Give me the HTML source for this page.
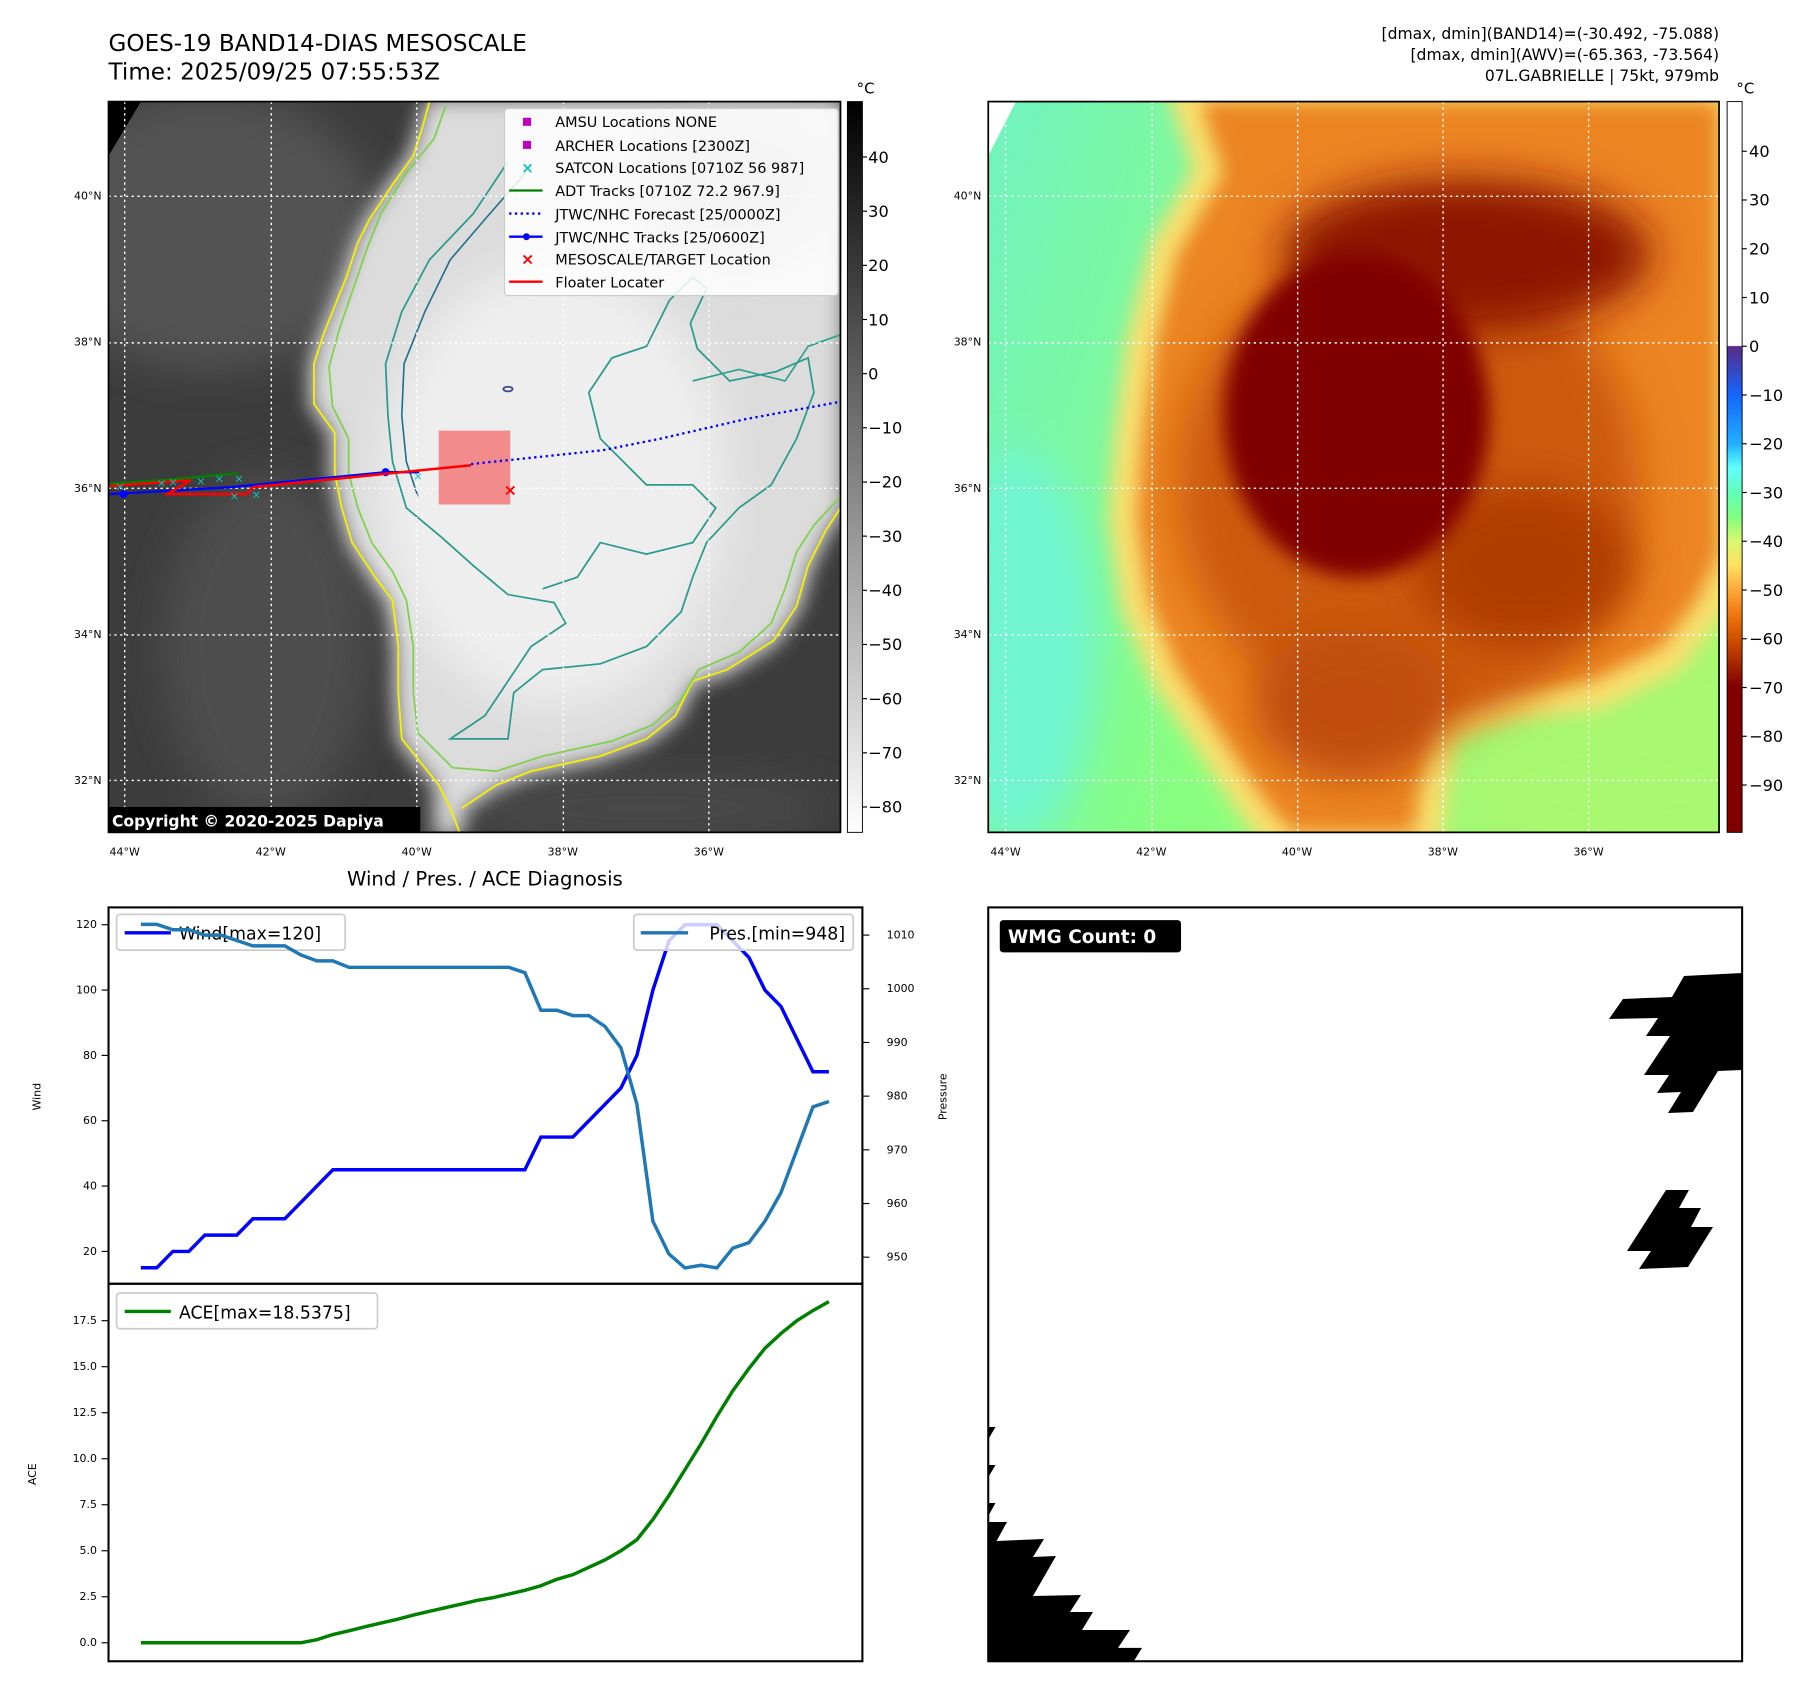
<!DOCTYPE html>
<html><head><meta charset="utf-8"><style>
html,body{margin:0;padding:0;background:#fff;}
svg{display:block;font-family:"DejaVu Sans","Liberation Sans",sans-serif;}
</style></head><body>
<svg id="fig" xmlns="http://www.w3.org/2000/svg" width="1801" height="1690" viewBox="0 0 1560 1463.9" preserveAspectRatio="none">
<defs>
<filter id="b3" x="-20%" y="-20%" width="140%" height="140%"><feGaussianBlur stdDeviation="4"/></filter>
<filter id="b8" x="-20%" y="-20%" width="140%" height="140%"><feGaussianBlur stdDeviation="8"/></filter>
<filter id="b18" x="-30%" y="-30%" width="160%" height="160%"><feGaussianBlur stdDeviation="18"/></filter>
<clipPath id="clipL"><rect x="94" y="88" width="634" height="633"/></clipPath>
<clipPath id="clipR"><rect x="856" y="88" width="633" height="633"/></clipPath>
<clipPath id="clipW"><rect x="856" y="786" width="653" height="653"/></clipPath>
<linearGradient id="cbGrey" x1="0" y1="0" x2="0" y2="1"><stop offset="0" stop-color="#000"/><stop offset="1" stop-color="#fff"/></linearGradient>
<linearGradient id="cbAwv" x1="0" y1="0" x2="0" y2="1">
<stop offset="0" stop-color="#fff"/><stop offset="0.334" stop-color="#fff"/>
<stop offset="0.335" stop-color="#5a2a86"/><stop offset="0.401" stop-color="#1565ff"/>
<stop offset="0.468" stop-color="#20b0ff"/><stop offset="0.501" stop-color="#60ffff"/>
<stop offset="0.535" stop-color="#60ffb8"/><stop offset="0.568" stop-color="#80ff80"/>
<stop offset="0.601" stop-color="#d8f870"/><stop offset="0.635" stop-color="#ffe060"/>
<stop offset="0.668" stop-color="#ffa838"/><stop offset="0.701" stop-color="#f07810"/>
<stop offset="0.735" stop-color="#d05000"/><stop offset="0.768" stop-color="#a82800"/>
<stop offset="0.801" stop-color="#800000"/><stop offset="1" stop-color="#800000"/>
</linearGradient>
<linearGradient id="awvBg" x1="0" y1="0" x2="1" y2="0.3">
<stop offset="0" stop-color="#70f3c0"/><stop offset="0.25" stop-color="#7cf8a0"/><stop offset="0.5" stop-color="#88ff80"/><stop offset="1" stop-color="#a8f870"/>
</linearGradient>
</defs>

<text x="94" y="44" font-size="20">GOES-19 BAND14-DIAS MESOSCALE</text>
<text x="94" y="69" font-size="20">Time: 2025/09/25 07:55:53Z</text>
<g font-size="13.5" text-anchor="end">
<text x="1489" y="34">[dmax, dmin](BAND14)=(-30.492, -75.088)</text>
<text x="1489" y="52">[dmax, dmin](AWV)=(-65.363, -73.564)</text>
<text x="1489" y="70">07L.GABRIELLE | 75kt, 979mb</text>
</g>

<g clip-path="url(#clipL)">
<rect x="94" y="88" width="634" height="633" fill="#3c3c3c"/>
<ellipse cx="180" cy="200" rx="150" ry="120" fill="#525252" filter="url(#b18)"/>
<ellipse cx="230" cy="560" rx="90" ry="150" fill="#4e4e4e" filter="url(#b18)"/>
<ellipse cx="560" cy="700" rx="160" ry="30" fill="#4a4a4a" filter="url(#b18)"/>
<path d="M372,88 L728,88 L728,440 L715,460 700,490 690,525 670,555 630,580 600,590 585,620 560,640 520,655 460,668 430,680 400,700 398,721 380,721 380,680 348,640 345,600 345,560 340,520 325,500 305,470 296,440 290,410 290,375 272,350 272,315 280,290 292,260 300,240 310,210 320,190 340,160 358,135 366,110 Z" fill="#7a7a7a" stroke="#7a7a7a" stroke-width="14" filter="url(#b8)"/>
<path d="M372,88 L728,88 L728,440 L715,460 700,490 690,525 670,555 630,580 600,590 585,620 560,640 520,655 460,668 430,680 400,700 398,721 380,721 380,680 348,640 345,600 345,560 340,520 325,500 305,470 296,440 290,410 290,375 272,350 272,315 280,290 292,260 300,240 310,210 320,190 340,160 358,135 366,110 Z" fill="#dcdcdc" filter="url(#b8)"/>
<ellipse cx="480" cy="420" rx="150" ry="190" fill="#eeeeee" filter="url(#b18)"/>
<ellipse cx="640" cy="160" rx="90" ry="70" fill="#bdbdbd" filter="url(#b18)"/>
<path d="M94,88 L122,88 L94,135 Z" fill="#000"/>
<path d="M372,88 L366,110 358,135 340,160 320,190 310,210 300,240 292,260 280,290 272,315 272,350 290,375 290,410 296,440 305,470 325,500 340,520 345,560 345,600 348,640 380,680 390,700 398,721 M400,700 L430,680 460,668 520,655 560,640 585,620 600,590 630,580 670,555 690,525 700,490 715,460 728,440" fill="none" stroke="#f5f000" stroke-width="1.6"/>
<path d="M386,92 L376,120 352,150 330,185 318,215 306,250 294,285 285,318 288,352 302,380 302,410 310,440 322,470 340,495 352,520 358,560 358,600 362,635 392,665 430,668 470,655 530,642 565,628 590,606 605,580 640,565 668,540 680,510 690,478 705,455 728,430" fill="none" stroke="#7ed24a" stroke-width="1.5"/>
<path d="M440,140 L410,185 372,225 348,270 334,315 336,360 340,400 352,440 382,465 410,490 440,515 480,522 490,540 460,560 440,590 420,620 390,640 440,640 445,600 470,580 520,575 560,560 590,530 600,500 612,470 640,440 668,420 690,380 705,340 700,310 672,322 632,330 604,302 598,280 612,250 600,240 580,260 560,300 530,310 510,340 520,380 540,400 560,420 600,420 620,440 600,470 560,480 520,470 500,500 470,510" fill="none" stroke="#2a9a8c" stroke-width="1.5"/>
<path d="M455,150 L420,190 390,225 368,270 350,315 348,360 352,400 362,430" fill="none" stroke="#21708a" stroke-width="1.4"/>
<path d="M600,330 L640,320 680,330 700,300 728,290" fill="none" stroke="#2aa08a" stroke-width="1.4"/>
<ellipse cx="440" cy="337" rx="4" ry="2" fill="none" stroke="#3a4a8a" stroke-width="1.5"/>
<g stroke="#fff" stroke-width="1.2" stroke-dasharray="2,3">
<line x1="108" y1="88" x2="108" y2="721"/><line x1="235" y1="88" x2="235" y2="721"/><line x1="361" y1="88" x2="361" y2="721"/><line x1="488" y1="88" x2="488" y2="721"/><line x1="614" y1="88" x2="614" y2="721"/>
<line x1="94" y1="170" x2="728" y2="170"/><line x1="94" y1="297" x2="728" y2="297"/><line x1="94" y1="423" x2="728" y2="423"/><line x1="94" y1="550" x2="728" y2="550"/><line x1="94" y1="676" x2="728" y2="676"/>
</g>
<rect x="380" y="373" width="62" height="64" fill="#f28080" opacity="0.9"/>
<polyline points="408,402 522,390 572,380 646,363 728,348" fill="none" stroke="#0000ff" stroke-width="2" stroke-dasharray="2,3"/>
<polyline points="95,419 140,416 206,410" fill="none" stroke="#008000" stroke-width="2"/>
<polyline points="95,428 200,422 334,409 363,409" fill="none" stroke="#0000ff" stroke-width="2"/>
<circle cx="107" cy="428" r="3.5" fill="#0000ff"/><circle cx="334" cy="409" r="3.5" fill="#0000ff"/>
<polyline points="95,421 165,416 145,428 214,428 219,422 368,407 408,403" fill="none" stroke="#ff0000" stroke-width="2.2"/>
<g fill="#10c0c0" font-size="10" text-anchor="middle">
<text x="104" y="425">×</text><text x="140" y="422">×</text><text x="150" y="421">×</text><text x="174" y="420">×</text><text x="190" y="418">×</text><text x="207" y="418">×</text><text x="203" y="433">×</text><text x="222" y="432">×</text><text x="362" y="416">×</text>
</g>
<text x="442" y="429" fill="#ff0000" font-size="14" font-weight="bold" text-anchor="middle">×</text>
<g>
<rect x="437" y="94" width="289" height="162" rx="3" fill="#fff" fill-opacity="0.85" stroke="#ccc"/>
<rect x="453" y="102" width="7" height="7" fill="#c000c0"/>
<rect x="453" y="122" width="7" height="7" fill="#c000c0"/>
<text x="457" y="150" fill="#10c0c0" font-size="13" text-anchor="middle" font-weight="bold">×</text>
<line x1="441" y1="165" x2="470" y2="165" stroke="#008000" stroke-width="2"/>
<line x1="441" y1="185" x2="470" y2="185" stroke="#0000ff" stroke-width="2" stroke-dasharray="2,3"/>
<line x1="441" y1="205" x2="470" y2="205" stroke="#0000ff" stroke-width="2"/><circle cx="456" cy="205" r="3" fill="#0000ff"/>
<text x="457" y="229" fill="#ff0000" font-size="14" text-anchor="middle" font-weight="bold">×</text>
<line x1="441" y1="244" x2="470" y2="244" stroke="#ff0000" stroke-width="2"/>
<g font-size="12.5" fill="#000">
<text x="481" y="110">AMSU Locations NONE</text>
<text x="481" y="131">ARCHER Locations [2300Z]</text>
<text x="481" y="150">SATCON Locations [0710Z 56 987]</text>
<text x="481" y="170">ADT Tracks [0710Z 72.2 967.9]</text>
<text x="481" y="190">JTWC/NHC Forecast [25/0000Z]</text>
<text x="481" y="210">JTWC/NHC Tracks [25/0600Z]</text>
<text x="481" y="229">MESOSCALE/TARGET Location</text>
<text x="481" y="249">Floater Locater</text>
</g></g>
<rect x="94" y="699" width="270" height="22" fill="#000"/>
<text x="97" y="716" fill="#fff" font-size="13.5" font-weight="bold">Copyright © 2020-2025 Dapiya</text>
</g>
<rect x="94" y="88" width="634" height="633" fill="none" stroke="#000" stroke-width="1.5"/>

<g clip-path="url(#clipR)">
<rect x="856" y="88" width="633" height="633" fill="url(#awvBg)"/>
<ellipse cx="880" cy="560" rx="70" ry="170" fill="#6ff5d0" filter="url(#b18)"/>
<ellipse cx="1400" cy="680" rx="140" ry="60" fill="#a8f870" filter="url(#b18)"/>
<path d="M1040,88 L1489,88 L1489,480 1470,520 1440,560 1380,590 1300,600 1240,620 1230,680 1225,721 1120,721 1100,700 1060,640 1020,580 995,520 985,450 990,380 1000,300 1020,220 1060,150 Z" fill="#f8e070" stroke="#f8e070" stroke-width="50" filter="url(#b8)"/>
<path d="M1040,88 L1489,88 L1489,480 1470,520 1440,560 1380,590 1300,600 1240,620 1230,680 1225,721 1120,721 1100,700 1060,640 1020,580 995,520 985,450 990,380 1000,300 1020,220 1060,150 Z" fill="#ec8420" filter="url(#b8)"/>
<ellipse cx="1220" cy="420" rx="200" ry="210" fill="#cc5a08" filter="url(#b18)"/>
<ellipse cx="1170" cy="610" rx="85" ry="65" fill="#c04e08" filter="url(#b18)"/>
<ellipse cx="1320" cy="490" rx="95" ry="70" fill="#b03e06" filter="url(#b18)"/>
<ellipse cx="1270" cy="220" rx="160" ry="65" fill="#8e1800" filter="url(#b18)"/>
<ellipse cx="1175" cy="360" rx="115" ry="140" fill="#800000" filter="url(#b8)"/>
<path d="M856,88 L880,88 L856,135 Z" fill="#fff"/>
<g stroke="#fff" stroke-width="1.2" stroke-dasharray="2,3">
<line x1="871" y1="88" x2="871" y2="721"/><line x1="998" y1="88" x2="998" y2="721"/><line x1="1124" y1="88" x2="1124" y2="721"/><line x1="1250" y1="88" x2="1250" y2="721"/><line x1="1376" y1="88" x2="1376" y2="721"/>
<line x1="856" y1="170" x2="1489" y2="170"/><line x1="856" y1="297" x2="1489" y2="297"/><line x1="856" y1="423" x2="1489" y2="423"/><line x1="856" y1="550" x2="1489" y2="550"/><line x1="856" y1="676" x2="1489" y2="676"/>
</g>
</g>
<rect x="856" y="88" width="633" height="633" fill="none" stroke="#000" stroke-width="1.5"/>

<rect x="734" y="88" width="13" height="633" fill="url(#cbGrey)" stroke="#000" stroke-width="0.8"/>
<rect x="1496" y="88" width="13" height="633" fill="url(#cbAwv)" stroke="#000" stroke-width="0.8"/>
<text x="742" y="81" font-size="13">°C</text>
<text x="1504" y="81" font-size="13">°C</text>
<g id="cbticks" font-size="14"></g>
<g id="mapticks" font-size="9.5"></g>

<text x="420" y="767" font-size="17" text-anchor="middle">Wind / Pres. / ACE Diagnosis</text>
<g id="chart"></g>
<rect x="94" y="786" width="653" height="326" fill="none" stroke="#000" stroke-width="1.8"/>
<rect x="94" y="1112" width="653" height="327" fill="none" stroke="#000" stroke-width="1.8"/>
<text transform="translate(35,950) rotate(-90)" font-size="9.5" text-anchor="middle">Wind</text>
<text transform="translate(820,950) rotate(-90)" font-size="9.5" text-anchor="middle">Pressure</text>
<text transform="translate(31,1277) rotate(-90)" font-size="9.5" text-anchor="middle">ACE</text>

<g clip-path="url(#clipW)">
<rect x="856" y="786" width="653" height="653" fill="#fff"/>
<g transform="scale(0.86618)" fill="#000">
<polygon points="1609,1019 1623,999 1672,997 1684,976 1742,973 1742,1070 1718,1071 1693,1112 1668,1113 1681,1092 1657,1093 1669,1075 1644,1075 1670,1036 1646,1036 1658,1018"/>
<polygon points="1666,1190 1689,1190 1679,1208 1701,1208 1691,1227 1713,1227 1688,1267 1639,1269 1651,1251 1627,1251"/>
<polygon points="985,1427 995.5,1427 985,1445 985,1465 995.5,1465 985,1483 985,1503 995.5,1503 985,1522 1007,1522 996.6,1541 1044,1539 1033,1557 1056,1556 1033,1596 1081,1595 1070,1612 1093,1612 1082,1630 1130,1630 1118,1648 1142,1648 1134,1661 985,1661"/>
</g>
</g>
<rect x="856" y="786" width="653" height="653" fill="none" stroke="#000" stroke-width="1.8"/>
<rect x="866" y="797" width="157" height="28" rx="3" fill="#000"/>
<text x="873" y="817" fill="#fff" font-size="16" font-weight="bold">WMG Count: 0</text>
</svg>
<script>
const windVals = [15,15,20,20,25,25,25,30,30,30,35,40,45,45,45,45,45,45,45,45,45,45,45,45,45,55,55,55,60,65,70,80,100,115,120,120,120,115,110,100,95,85,75,75];
const presVals = [1012,1012,1011,1011,1010,1010,1009,1008,1008,1008,1006.3,1005.2,1005.2,1004,1004,1004,1004,1004,1004,1004,1004,1004,1004,1004,1003,996,996,995,995,993,989,978.5,956.7,950.6,948,948.5,948,951.7,952.7,956.7,962,970,978,979];
const aceVals = [0,0,0,0,0,0,0,0,0,0,0,0.17,0.45,0.65,0.87,1.07,1.27,1.5,1.7,1.9,2.1,2.3,2.45,2.65,2.85,3.1,3.45,3.7,4.1,4.5,5.0,5.6,6.7,8.0,9.4,10.8,12.3,13.7,14.9,16.0,16.8,17.5,18.05,18.5375];
const windTicks = [20,40,60,80,100,120];
const presTicks = [950,960,970,980,990,1000,1010];
const aceTicks = [0,2.5,5,7.5,10,12.5,15,17.5];
const band14Ticks = [40,30,20,10,0,-10,-20,-30,-40,-50,-60,-70,-80];
const awvTicks = [40,30,20,10,0,-10,-20,-30,-40,-50,-60,-70,-80,-90];
const latTicks = [40,38,36,34,32];
const lonTicks = [44,42,40,38,36];

const NS = 'http://www.w3.org/2000/svg';
function mk(tag, attrs, parent){const e=document.createElementNS(NS,tag);for(const k in attrs)e.setAttribute(k,attrs[k]);parent.appendChild(e);return e;}
const xIdx = i => 122 + i*(718-122)/(windVals.length-1);
const yWind = v => 1084 + (v-20)*(801-1084)/100;
const yPres = v => 1089 + (v-950)*(810-1089)/60;
const yAce = v => 1423 + v*(1144-1423)/17.5;
const yB14 = v => 136 + (40-v)*(699-136)/120;
const yAwv = v => 131 + (40-v)*(680-131)/130;
const yLat = v => 170 + (40-v)*(676-170)/8;
const xLon = v => 108 + (44-v)*(614-108)/8;
const xLon2 = v => 871 + (44-v)*(1376-871)/8;
const minus = s => String(s).replace('-', '\u2212');

const cb = document.getElementById('cbticks');
band14Ticks.forEach(v=>{const y=yB14(v);
 mk('line',{x1:747,y1:y,x2:751,y2:y,stroke:'#000'},cb);
 const t=mk('text',{x:752,y:y+5},cb);t.textContent=minus(v);
 
 });
awvTicks.forEach(v=>{const y=yAwv(v);
 mk('line',{x1:1509,y1:y,x2:1513,y2:y,stroke:'#000'},cb);
 const t=mk('text',{x:1515,y:y+5},cb);t.textContent=minus(v);
 
 });

const mt = document.getElementById('mapticks');
latTicks.forEach(v=>{[88,850].forEach(x=>{const t=mk('text',{x:x,y:yLat(v)+3,'text-anchor':'end'},mt);t.textContent=v+'°N';
 
 });});
lonTicks.forEach(v=>{[xLon(v),xLon2(v)].forEach(x=>{const t=mk('text',{x:x,y:741,'text-anchor':'middle'},mt);t.textContent=v+'°W';
 
 });});

const ch = document.getElementById('chart');
const g = mk('g',{'font-size':'9.5'},ch);
windTicks.forEach(v=>{const y=yWind(v);mk('line',{x1:88,y1:y,x2:94,y2:y,stroke:'#000'},g);
 const t=mk('text',{x:84,y:y+3,'text-anchor':'end'},g);t.textContent=v;
 
 });
presTicks.forEach(v=>{const y=yPres(v);mk('line',{x1:747,y1:y,x2:753,y2:y,stroke:'#000'},g);
 const t=mk('text',{x:768,y:y+3},g);t.textContent=v;
 
 });
aceTicks.forEach(v=>{const y=yAce(v);mk('line',{x1:88,y1:y,x2:94,y2:y,stroke:'#000'},g);
 const t=mk('text',{x:84,y:y+3,'text-anchor':'end'},g);t.textContent=v.toFixed(1);
 
 });

const wl = mk('polyline',{points:windVals.map((v,i)=>xIdx(i)+','+yWind(v)).join(' '),fill:'none',stroke:'#0000ff','stroke-width':3},ch);


const wlg = mk('g',{},ch);


mk('rect',{x:101,y:792,width:198,height:31,rx:3,fill:'#fff','fill-opacity':0.85,stroke:'#ccc','stroke-width':1.5},wlg);
mk('line',{x1:108,y1:808,x2:148,y2:808,stroke:'#0000ff','stroke-width':3},wlg);
mk('text',{x:155,y:814,'font-size':15}, wlg).textContent='Wind[max=120]';
const pl = mk('polyline',{points:presVals.map((v,i)=>xIdx(i)+','+yPres(v)).join(' '),fill:'none',stroke:'#1f77b4','stroke-width':3},ch);


const plg = mk('g',{},ch);


mk('rect',{x:549,y:792,width:190,height:31,rx:3,fill:'#fff','fill-opacity':0.8,stroke:'#ccc','stroke-width':1.5},plg);
mk('line',{x1:555,y1:808,x2:596,y2:808,stroke:'#1f77b4','stroke-width':3},plg);
mk('text',{x:732,y:814,'font-size':15,'text-anchor':'end'}, plg).textContent='Pres.[min=948]';
const al = mk('polyline',{points:aceVals.map((v,i)=>xIdx(i)+','+yAce(v)).join(' '),fill:'none',stroke:'#008000','stroke-width':3},ch);


const alg = mk('g',{},ch);


mk('rect',{x:101,y:1120,width:226,height:31,rx:3,fill:'#fff','fill-opacity':0.85,stroke:'#ccc','stroke-width':1.5},alg);
mk('line',{x1:108,y1:1136,x2:148,y2:1136,stroke:'#008000','stroke-width':3},alg);
mk('text',{x:155,y:1142,'font-size':15}, alg).textContent='ACE[max=18.5375]';
</script>
</body></html>
